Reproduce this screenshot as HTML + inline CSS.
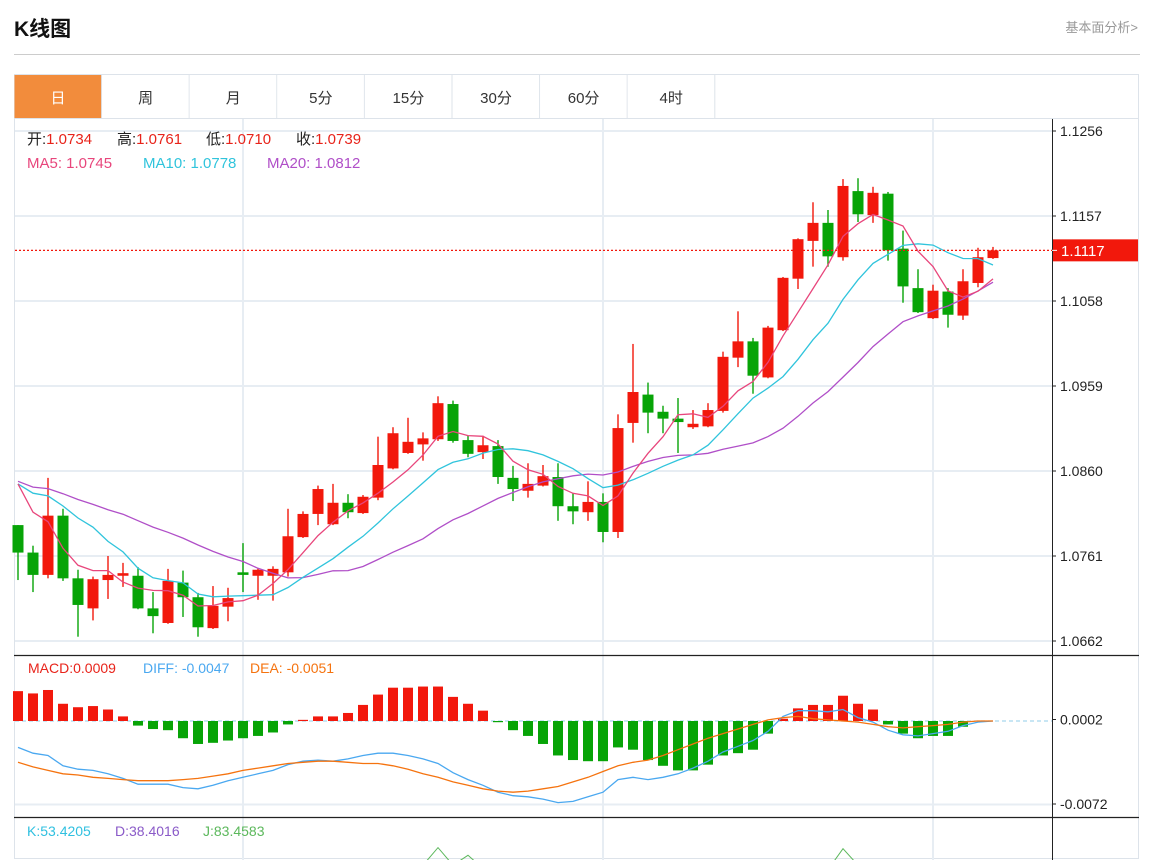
<!DOCTYPE html>
<html><head><meta charset="utf-8">
<style>
html,body{margin:0;padding:0;background:#fff;width:1160px;height:860px;overflow:hidden;font-family:"Liberation Sans","Noto Sans CJK SC",sans-serif;}
svg{display:block}
text{font-family:"Liberation Sans","Noto Sans CJK SC",sans-serif;}
</style></head>
<body>
<svg id="chart" width="1160" height="860" viewBox="0 0 1160 860" style="overflow:hidden">
  <text x="14" y="36" font-size="21" font-weight="bold" fill="#111">K线图</text>
  <text x="1138" y="32" font-size="13" fill="#999" text-anchor="end">基本面分析&gt;</text>
  <line x1="14" y1="54.5" x2="1140" y2="54.5" stroke="#ccc" stroke-width="1"/>
  <rect x="14.5" y="74.5" width="1124" height="784" fill="none" stroke="#dde3ea"/>
  <line x1="14" y1="118.5" x2="1139" y2="118.5" stroke="#dde3ea"/>
  <g id="tabs"></g>
  <g id="grid"></g>
  <g id="main"></g>
  <g id="macd"></g>
  <g id="kdj"></g>
  <g id="axes"></g>
  <g font-size="15">
    <text x="27" y="144"><tspan fill="#222">开:</tspan><tspan fill="#e8231a">1.0734</tspan></text>
    <text x="117" y="144"><tspan fill="#222">高:</tspan><tspan fill="#e8231a">1.0761</tspan></text>
    <text x="206" y="144"><tspan fill="#222">低:</tspan><tspan fill="#e8231a">1.0710</tspan></text>
    <text x="296" y="144"><tspan fill="#222">收:</tspan><tspan fill="#e8231a">1.0739</tspan></text>
  </g>
  <g font-size="15">
    <text x="27" y="168" fill="#e8467c">MA5: 1.0745</text>
    <text x="143" y="168" fill="#30c4dc">MA10: 1.0778</text>
    <text x="267" y="168" fill="#b04fc8">MA20: 1.0812</text>
  </g>
  <g font-size="14">
    <text x="28" y="673" fill="#e8231a">MACD:0.0009</text>
    <text x="143" y="673" fill="#4aa8f0">DIFF: -0.0047</text>
    <text x="250" y="673" fill="#f5730f">DEA: -0.0051</text>
  </g>
  <g font-size="14">
    <text x="27" y="836" fill="#30c0e0">K:53.4205</text>
    <text x="115" y="836" fill="#8a5ac8">D:38.4016</text>
    <text x="203" y="836" fill="#5cb85c">J:83.4583</text>
  </g>
</svg>
<script>
// ---- data ----
const tabLabels = ["日","周","月","5分","15分","30分","60分","4时"];
const priorCloses = [1.0874,1.0842,1.0855,1.0838,1.0850,1.0862,1.0845,1.0851,1.0840,1.0853,1.0848,1.0839,1.0852,1.0844,1.0842,1.0904,1.0863,1.0890,1.0803];
const opens = [1.0797,1.0765,1.0739,1.0808,1.0735,1.0700,1.0733,1.0738,1.0738,1.0700,1.0683,1.0730,1.0713,1.0677,1.0702,1.0742,1.0738,1.0738,1.0742,1.0783,1.0810,1.0798,1.0823,1.0811,1.0829,1.0863,1.0881,1.0891,1.0897,1.0938,1.0896,1.0882,1.0889,1.0852,1.0837,1.0843,1.0853,1.0819,1.0812,1.0824,1.0789,1.0916,1.0949,1.0929,1.0921,1.0911,1.0912,1.0930,1.0992,1.1011,1.0969,1.1024,1.1084,1.1128,1.1149,1.1109,1.1186,1.1158,1.1183,1.1119,1.1073,1.1038,1.1069,1.1041,1.1079,1.1108];
const highs = [1.0797,1.0773,1.0852,1.0816,1.0745,1.0737,1.0761,1.0753,1.0748,1.0719,1.0746,1.0744,1.0718,1.0726,1.0724,1.0776,1.0747,1.0749,1.0816,1.0813,1.0843,1.0845,1.0833,1.0832,1.0900,1.0911,1.0922,1.0905,1.0947,1.0942,1.0901,1.0901,1.0896,1.0866,1.0869,1.0867,1.0869,1.0834,1.0848,1.0834,1.0926,1.1008,1.0963,1.0936,1.0945,1.0931,1.0939,1.0999,1.1046,1.1015,1.1029,1.1086,1.1131,1.1173,1.1164,1.1200,1.1201,1.1191,1.1185,1.1140,1.1095,1.1077,1.1073,1.1095,1.1120,1.1121];
const lows = [1.0733,1.0719,1.0735,1.0732,1.0667,1.0686,1.0711,1.0725,1.0699,1.0671,1.0682,1.0690,1.0667,1.0676,1.0685,1.0719,1.0710,1.0709,1.0737,1.0782,1.0797,1.0797,1.0805,1.0810,1.0826,1.0862,1.0880,1.0872,1.0895,1.0893,1.0876,1.0874,1.0845,1.0825,1.0829,1.0842,1.0802,1.0798,1.0802,1.0777,1.0782,1.0893,1.0904,1.0904,1.0881,1.0909,1.0911,1.0928,1.0981,1.0950,1.0968,1.1023,1.1072,1.1098,1.1098,1.1105,1.1150,1.1149,1.1105,1.1056,1.1044,1.1037,1.1027,1.1036,1.1074,1.1107];
const closes = [1.0765,1.0739,1.0808,1.0735,1.0704,1.0734,1.0739,1.0741,1.0700,1.0691,1.0732,1.0713,1.0678,1.0703,1.0712,1.0739,1.0745,1.0746,1.0784,1.0810,1.0839,1.0823,1.0812,1.0830,1.0867,1.0904,1.0894,1.0898,1.0939,1.0895,1.0880,1.0890,1.0853,1.0839,1.0845,1.0854,1.0819,1.0813,1.0824,1.0789,1.0910,1.0952,1.0928,1.0921,1.0917,1.0915,1.0931,1.0993,1.1011,1.0971,1.1027,1.1085,1.1130,1.1149,1.1110,1.1192,1.1159,1.1184,1.1117,1.1075,1.1045,1.1070,1.1042,1.1081,1.1109,1.1117];
const macdHist = [0.0026,0.0024,0.0027,0.0015,0.0012,0.0013,0.0010,0.0004,-0.0004,-0.0007,-0.0008,-0.0015,-0.0020,-0.0019,-0.0017,-0.0015,-0.0013,-0.0010,-0.0003,0.0001,0.0004,0.0004,0.0007,0.0014,0.0023,0.0029,0.0029,0.0030,0.0030,0.0021,0.0015,0.0009,-0.0001,-0.0008,-0.0013,-0.0020,-0.0030,-0.0034,-0.0035,-0.0035,-0.0023,-0.0025,-0.0034,-0.0039,-0.0043,-0.0043,-0.0038,-0.0030,-0.0028,-0.0025,-0.0011,0.0002,0.0011,0.0014,0.0014,0.0022,0.0015,0.0010,-0.0003,-0.0011,-0.0015,-0.0013,-0.0013,-0.0005,0.0000,0.0000];
const diffVals = [-0.0023,-0.0028,-0.0030,-0.0039,-0.0042,-0.0043,-0.0046,-0.0050,-0.0055,-0.0055,-0.0055,-0.0058,-0.0059,-0.0056,-0.0052,-0.0049,-0.0046,-0.0043,-0.0038,-0.0035,-0.0034,-0.0035,-0.0033,-0.0030,-0.0028,-0.0028,-0.0030,-0.0033,-0.0037,-0.0045,-0.0051,-0.0056,-0.0062,-0.0065,-0.0066,-0.0068,-0.0071,-0.0070,-0.0066,-0.0062,-0.0051,-0.0049,-0.0051,-0.0049,-0.0046,-0.0041,-0.0035,-0.0027,-0.0022,-0.0017,-0.0009,0.0004,0.0009,0.0009,0.0008,0.0010,0.0003,-0.0001,-0.0008,-0.0012,-0.0013,-0.0011,-0.0009,-0.0004,-0.0001,0.0000];
const deaVals = [-0.0036,-0.0040,-0.0043,-0.0046,-0.0047,-0.0049,-0.0050,-0.0051,-0.0052,-0.0052,-0.0052,-0.0051,-0.0050,-0.0048,-0.0046,-0.0043,-0.0041,-0.0039,-0.0037,-0.0036,-0.0035,-0.0035,-0.0036,-0.0037,-0.0037,-0.0039,-0.0042,-0.0046,-0.0049,-0.0053,-0.0056,-0.0059,-0.0061,-0.0062,-0.0061,-0.0059,-0.0057,-0.0053,-0.0049,-0.0044,-0.0039,-0.0036,-0.0034,-0.0030,-0.0025,-0.0020,-0.0015,-0.0011,-0.0007,-0.0003,0.0001,0.0003,0.0004,0.0002,0.0001,0.0000,-0.0001,-0.0003,-0.0005,-0.0006,-0.0005,-0.0004,-0.0003,-0.0001,0.0000,0.0000];
const jVals = [60,55,50,45,40,40,45,50,48,42,40,45,42,40,45,50,55,60,65,70,72,75,78,80,85,86,88,88,104,88,97,85,70,60,55,50,45,40,38,35,50,70,75,72,70,68,72,80,85,82,84,85,86,86,84,103,88,85,70,55,45,40,42,50,65,83];
const priceTicks = [1.1256,1.1157,1.1058,1.0959,1.0860,1.0761,1.0662];
const macdTicks = [0.0002,-0.0072];
const lastPrice = 1.1117;

// ---- scales ----
const NS = "http://www.w3.org/2000/svg";
const x = i => 18 + i * 15;
const yP = p => 131 + (1.1256 - p) * 8586;
const yM = v => 721 - v * 11486;
const yJ = j => 852 - (j - 100) * 1.1;
function mk(tag, attrs, parent) {
  const e = document.createElementNS(NS, tag);
  for (const k in attrs) e.setAttribute(k, attrs[k]);
  parent.appendChild(e);
  return e;
}
const RED = "#f2180c", GREEN = "#07a407";

// tabs
const tabs = document.getElementById("tabs");
tabLabels.forEach((t, i) => {
  const g = mk("g", {}, tabs);
  
  
  const x0 = 14 + i * 87.6;
  mk("rect", {x: x0 + 0.5, y: 75, width: 87, height: 43, fill: i === 0 ? "#f28c3c" : "#fff"}, g);
  mk("line", {x1: x0 + 87.6, y1: 75, x2: x0 + 87.6, y2: 118, stroke: "#dde3ea"}, g);
  const tx = mk("text", {x: x0 + 44, y: 103, "font-size": 15, "text-anchor": "middle", fill: i === 0 ? "#fff" : "#333"}, g);
  tx.textContent = t;
});

// grid
const grid = document.getElementById("grid");
priceTicks.forEach(p => {
  const l = mk("line", {x1: 15, x2: 1052, y1: yP(p), y2: yP(p), stroke: "#e7edf3", "stroke-width": 2}, grid);
  
  
});
mk("line", {x1: 15, x2: 1052, y1: 804.5, y2: 804.5, stroke: "#e7edf3", "stroke-width": 2}, grid);
[243, 603, 933].forEach(gx => {
  mk("line", {x1: gx, x2: gx, y1: 119, y2: 860, stroke: "#e7edf3", "stroke-width": 2}, grid);
});

// main panel
const main = document.getElementById("main");
function maLine(n, color, name) {
  const all = priorCloses.concat(closes);
  const off = priorCloses.length;
  let pts = [];
  for (let i = 0; i < closes.length; i++) {
    let s = 0;
    for (let k = 0; k < n; k++) s += all[off + i - k];
    pts.push(x(i).toFixed(1) + "," + yP(s / n).toFixed(1));
  }
  const pl = mk("polyline", {points: pts.join(" "), fill: "none", stroke: color, "stroke-width": 1.3}, main);
  
  
}
closes.forEach((c, i) => {
  const o = opens[i], up = c >= o, col = up ? RED : GREEN;
  const g = mk("g", {}, main);
  
  
  mk("line", {x1: x(i), x2: x(i), y1: yP(highs[i]), y2: yP(lows[i]), stroke: col, "stroke-width": 1.4}, g);
  const top = yP(Math.max(o, c)), bot = yP(Math.min(o, c));
  mk("rect", {x: x(i) - 5.5, y: top, width: 11, height: Math.max(1.5, bot - top), fill: col}, g);
});
maLine(20, "#b04fc8", "ma20-line");
maLine(10, "#30c4dc", "ma10-line");
maLine(5, "#e8467c", "ma5-line");
const pl = mk("line", {x1: 15, x2: 1052, y1: yP(lastPrice), y2: yP(lastPrice), stroke: "#f2180c", "stroke-width": 1.2, "stroke-dasharray": "2,2"}, main);



// macd panel
const macd = document.getElementById("macd");
mk("line", {x1: 15, x2: 1052, y1: yM(0), y2: yM(0), stroke: "#a8d8ee", "stroke-width": 1.3, "stroke-dasharray": "4,3"}, macd);
macdHist.forEach((v, i) => {
  if (v === 0) return;
  const y0 = yM(0), y1 = yM(v);
  const r = mk("rect", {x: x(i) - 5, y: Math.min(y0, y1), width: 10, height: Math.max(1.2, Math.abs(y1 - y0)), fill: v > 0 ? RED : GREEN}, macd);
  
  
});
const dl = mk("polyline", {points: diffVals.map((v, i) => x(i) + "," + yM(v).toFixed(1)).join(" "), fill: "none", stroke: "#4aa8f0", "stroke-width": 1.3}, macd);


const el = mk("polyline", {points: deaVals.map((v, i) => x(i) + "," + yM(v).toFixed(1)).join(" "), fill: "none", stroke: "#f5730f", "stroke-width": 1.3}, macd);



// kdj panel (clipped)
const kdj = document.getElementById("kdj");
const clip = mk("clipPath", {id: "kclip"}, kdj);
mk("rect", {x: 14, y: 818, width: 1038, height: 42}, clip);
const jl = mk("polyline", {points: jVals.map((v, i) => x(i) + "," + yJ(v).toFixed(1)).join(" "), fill: "none", stroke: "#5cb85c", "stroke-width": 1, "clip-path": "url(#kclip)"}, kdj);



// axes
const axes = document.getElementById("axes");
mk("line", {x1: 1052.5, x2: 1052.5, y1: 119, y2: 860, stroke: "#222", "stroke-width": 1}, axes);
mk("line", {x1: 14, x2: 1139, y1: 655.5, y2: 655.5, stroke: "#222", "stroke-width": 1.2}, axes);
mk("line", {x1: 14, x2: 1139, y1: 817.5, y2: 817.5, stroke: "#222", "stroke-width": 1.2}, axes);
priceTicks.forEach(p => {
  mk("line", {x1: 1052, x2: 1056, y1: yP(p), y2: yP(p), stroke: "#222"}, axes);
  const t = mk("text", {x: 1060, y: yP(p) + 5, "font-size": 14, fill: "#222"}, axes);
  
  
  t.textContent = p.toFixed(4);
});
macdTicks.forEach((v, i) => {
  const yy = i === 0 ? 719.5 : 804;
  mk("line", {x1: 1052, x2: 1056, y1: yy, y2: yy, stroke: "#222"}, axes);
  const t = mk("text", {x: 1060, y: yy + 5, "font-size": 14, fill: "#222"}, axes);
  
  
  t.textContent = v.toFixed(4);
});
const lb = mk("g", {}, axes);


mk("rect", {x: 1053, y: yP(lastPrice) - 11, width: 85, height: 22, fill: "#f2180c"}, lb);
mk("line", {x1: 1052, x2: 1057, y1: yP(lastPrice), y2: yP(lastPrice), stroke: "#fff"}, lb);
const lt = mk("text", {x: 1061, y: yP(lastPrice) + 5.5, "font-size": 15, fill: "#fff"}, lb);
lt.textContent = lastPrice.toFixed(4);
</script>
</body></html>
